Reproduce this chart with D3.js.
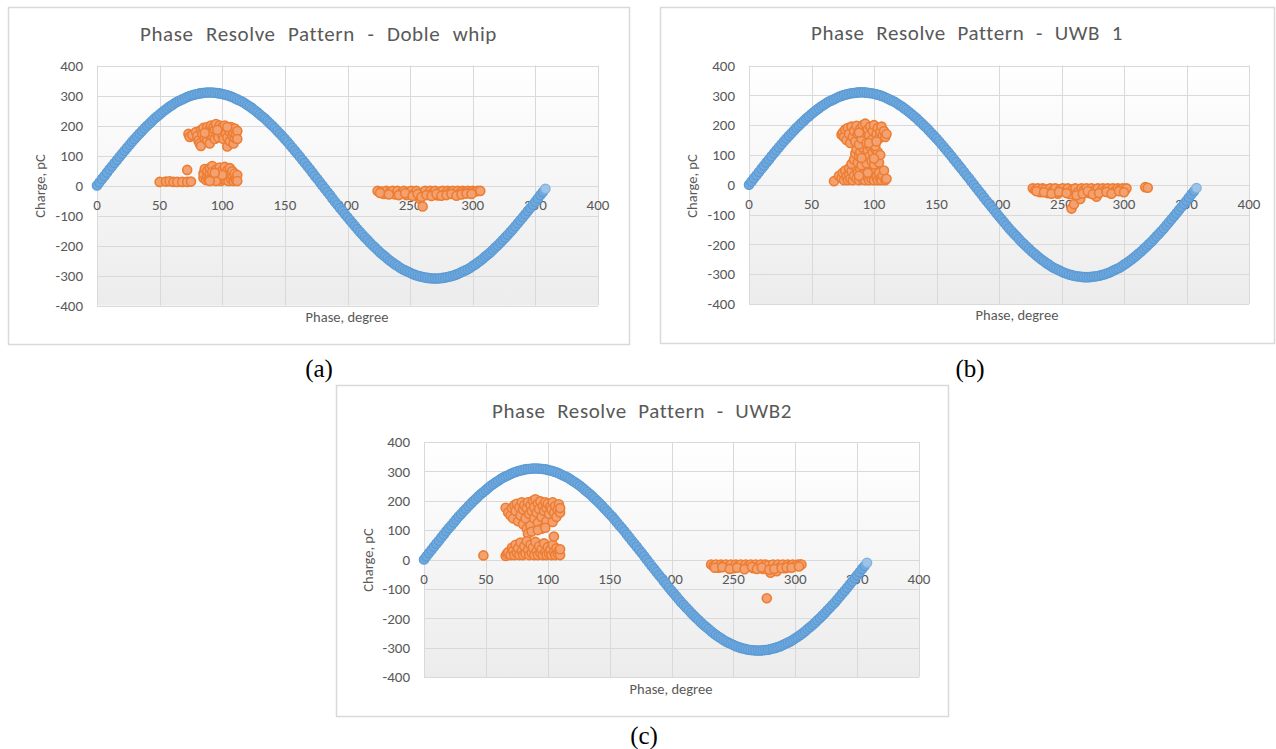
<!DOCTYPE html>
<html><head><meta charset="utf-8">
<script src="https://cdn.jsdelivr.net/npm/d3@7"></script>
<style>body{margin:0;background:#fff}</style>
</head><body>
<svg id="c" width="1276" height="749"></svg>
<script>
// ---------- DATA ----------
const titles = ["Phase Resolve Pattern - Doble whip", "Phase Resolve Pattern - UWB 1", "Phase Resolve Pattern - UWB2"];
const captions = ["(a)", "(b)", "(c)"];
const xTitle = "Phase, degree";
const yTitle = "Charge, pC";
const xTicks = [0, 50, 100, 150, 200, 250, 300, 350, 400];
const yTicks = [-400, -300, -200, -100, 0, 100, 200, 300, 400];

// reference voltage trace (phase every 2 degrees, charge pC)
const sinePhase = d3.range(0, 360, 2);
const sineCharge = [0,11,22,32,43,54,64,75,85,96,106,116,126,136,146,155,164,173,182,191,199,207,215,223,230,237,244,251,257,263,268,274,279,283,287,291,295,298,301,303,305,307,308,309,310,310,
310,309,308,307,305,303,301,298,295,291,287,283,279,274,268,263,257,251,244,237,230,223,215,207,199,191,182,173,164,155,146,136,126,116,106,96,85,75,64,54,43,32,22,11,0,
-11,-22,-32,-43,-54,-64,-75,-85,-96,-106,-116,-126,-136,-146,-155,-164,-173,-182,-191,-199,-207,-215,-223,-230,-237,-244,-251,-257,-263,-268,-274,-279,-283,-287,-291,-295,-298,-301,-303,-305,-307,-308,-309,-310,-310,
-310,-309,-308,-307,-305,-303,-301,-298,-295,-291,-287,-283,-279,-274,-268,-263,-257,-251,-244,-237,-230,-223,-215,-207,-199,-191,-182,-173,-164,-155,-146,-136,-126,-116,-106,-96,-85,-75,-64,-54,-43,-32,-22,-11];

// PD pulses [phase, charge]
const pdA = [
[50,12],[55,13],[58,14],[61,12],[64,12],[68,12],[72,12],[75,13],[72,52],
[85,25],[85,40],[86,55],[87,18],[88,30],[88,48],[89,20],[90,38],[90,58],[91,25],[92,65],[92,45],[93,18],[94,32],[95,52],[96,22],[97,40],[98,60],[99,15],[99,30],[100,48],[101,20],[102,62],[102,35],[103,18],[104,50],[104,28],[105,15],[106,40],[106,58],[107,22],[108,33],[108,48],[109,15],[110,25],[110,40],[111,18],[112,35],[112,15],[95,15],[90,15],[100,35],[94,42],
[73,172],[74,162],[76,168],[79,178],[80,165],[81,150],[82,140],[83,132],[83,185],[84,172],[85,192],[86,160],[87,180],[88,195],[88,150],[89,170],[90,188],[90,140],[91,200],[92,165],[92,178],[93,195],[94,155],[94,185],[95,205],[96,170],[97,190],[97,160],[98,200],[99,180],[100,168],[100,195],[101,155],[102,185],[102,200],[103,172],[104,130],[104,160],[105,190],[106,178],[106,148],[107,195],[108,165],[108,185],[109,140],[109,175],[110,190],[110,158],[111,170],[112,182],[112,155],[86,175],[96,185],[104,195],
[224,-18],[227,-20],[229,-28],[231,-18],[234,-22],[236,-18],[238,-30],[240,-18],[243,-25],[245,-18],[247,-32],[249,-20],[251,-18],[253,-28],[255,-18],[257,-35],[258,-45],[260,-70],[261,-22],[262,-18],[264,-30],[266,-18],[268,-25],[270,-18],[272,-33],[274,-20],[276,-18],[278,-28],[280,-18],[282,-22],[284,-18],[286,-30],[288,-18],[290,-24],[292,-18],[294,-20],[296,-18],[298,-22],[300,-18],[302,-20],[304,-18],[306,-18],
[226,-25],[233,-30],[241,-32],[246,-26],[252,-35],[256,-28],[259,-38],[263,-32],[267,-35],[271,-28],[275,-34],[279,-32],[283,-28],[287,-34],[291,-30],[295,-27],[299,-28]
];
const pdB = [
[68,12],
[72,30],[74,22],[75,40],[76,15],[77,48],[78,28],[79,15],[80,35],[80,55],[81,20],[82,45],[83,15],[84,30],[85,60],[86,20],[87,40],[88,15],[89,52],[90,28],[91,18],[92,42],[93,15],[94,58],[95,25],[96,15],[97,45],[98,20],[99,35],[100,15],[101,55],[102,25],[103,15],[104,40],[105,20],[106,15],[107,30],[108,48],[109,15],[110,20],[95,40],[88,30],
[82,70],[84,85],[85,105],[86,120],[87,75],[88,95],[89,110],[90,65],[91,125],[92,88],[93,100],[94,72],[95,115],[96,95],[97,128],[98,80],[99,108],[100,68],[101,120],[102,90],[103,110],[104,75],[105,100],[100,88],[90,90],
[74,168],[75,175],[76,160],[77,185],[78,150],[79,190],[80,170],[81,140],[82,195],[83,160],[84,180],[85,145],[86,198],[87,170],[88,135],[89,188],[90,155],[91,200],[92,175],[93,205],[94,140],[95,185],[96,165],[97,195],[98,150],[99,180],[100,200],[101,130],[102,170],[103,190],[104,155],[105,178],[106,195],[107,165],[108,180],[109,160],[110,170],[88,175],[96,140],[102,145],
[227,-12],[229,-18],[231,-12],[233,-25],[235,-12],[237,-15],[239,-28],[241,-12],[243,-20],[245,-12],[247,-30],[249,-15],[251,-12],[253,-22],[255,-12],[257,-32],[258,-80],[259,-15],[260,-65],[261,-12],[263,-25],[265,-48],[266,-12],[268,-18],[270,-12],[272,-28],[274,-12],[276,-20],[278,-40],[279,-12],[281,-25],[283,-12],[285,-18],[287,-12],[289,-28],[291,-12],[293,-20],[295,-12],[297,-15],[299,-12],[301,-18],[302,-12],[317,-8],[319,-10],
[230,-22],[236,-25],[242,-30],[248,-24],[254,-28],[262,-35],[267,-30],[271,-22],[275,-32],[280,-28],[286,-24],[290,-30],[296,-22],[300,-25]
];
const pdC = [
[48,14],[66,176],[66,12],[67,20],
[68,160],[70,150],[71,175],[72,140],[73,185],[74,165],[75,190],[76,130],[77,178],[78,150],[79,195],[80,120],[80,170],[81,185],[82,140],[83,105],[83,175],[84,195],[85,155],[86,115],[86,185],[87,165],[88,200],[89,140],[89,178],[90,205],[91,160],[92,125],[92,190],[93,172],[94,198],[95,145],[95,105],[96,182],[97,165],[98,195],[99,130],[99,175],[100,190],[101,155],[102,180],[103,170],[104,128],[104,195],[105,160],[106,182],[107,145],[108,170],[109,188],[110,160],[110,175],[84,88],[87,95],[92,100],[98,108],
[68,25],[70,15],[71,40],[72,30],[73,15],[74,50],[75,22],[76,38],[77,15],[78,58],[79,28],[80,15],[81,45],[82,20],[83,62],[84,32],[85,15],[86,50],[87,22],[88,40],[89,15],[90,60],[91,28],[92,15],[93,45],[94,22],[95,35],[96,15],[97,55],[98,25],[99,15],[100,42],[101,20],[102,32],[103,15],[104,50],[105,78],[105,25],[106,15],[107,38],[108,20],[109,30],[110,15],[110,35],
[232,-17],[234,-22],[236,-17],[238,-28],[240,-17],[242,-20],[244,-17],[246,-25],[248,-17],[250,-30],[252,-17],[254,-20],[256,-17],[258,-28],[260,-17],[262,-22],[264,-17],[266,-30],[268,-17],[270,-25],[272,-17],[274,-32],[276,-17],[277,-132],[278,-20],[280,-45],[282,-17],[284,-28],[285,-40],[286,-17],[288,-25],[290,-17],[292,-30],[294,-17],[296,-20],[298,-17],[300,-22],[302,-17],[304,-17],[305,-17],
[235,-28],[241,-26],[247,-32],[253,-28],[259,-33],[265,-25],[269,-32],[273,-27],[279,-35],[283,-32],[289,-30],[293,-27],[297,-28],[303,-24]
];
const pdSets = [pdA, pdB, pdC];

// ---------- LAYOUT ----------
const layout = [
  {box:[8,7,629,344],    plot:[97,65.5,598,305.5], titleY:34,  titleW:357, xt:[347,317],  yt:[40,186],  cap:[319,368]},
  {box:[660,7,1274,343], plot:[749,65.5,1249,304], titleY:33,  titleW:312, xt:[1017,315], yt:[692,186], cap:[970,368]},
  {box:[336,385,948,716],plot:[424,442,919,677],   titleY:411, titleW:300, xt:[671,689],  yt:[368,560], cap:[644,735]}
];

const FONT = "Carlito, Lato, 'Open Sans', sans-serif";
const GREY = "#595959";
const svg = d3.select("#c");
const defs = svg.append("defs");
const grad = defs.append("linearGradient").attr("id","bg").attr("x1",0).attr("y1",0).attr("x2",0).attr("y2",1);
grad.append("stop").attr("offset","0%").attr("stop-color","#ffffff");
grad.append("stop").attr("offset","100%").attr("stop-color","#ececec");

layout.forEach((L, i) => {
  const g = svg.append("g");
  const [bx0,by0,bx1,by1] = L.box;
  g.append("rect").attr("x",bx0+0.5).attr("y",by0+0.5).attr("width",bx1-bx0).attr("height",by1-by0)
    .attr("fill","#fff").attr("stroke","#d9d9d9").attr("stroke-width",1.5);

  const [px0,py0,px1,py1] = L.plot;
  const x = d3.scaleLinear().domain([0,400]).range([px0,px1]);
  const y = d3.scaleLinear().domain([-400,400]).range([py1,py0]);

  g.append("rect").attr("x",px0).attr("y",py0).attr("width",px1-px0).attr("height",py1-py0).attr("fill","url(#bg)");

  // gridlines
  g.append("g").selectAll("line").data(xTicks).join("line")
    .attr("x1",d=>Math.round(x(d))+0.5).attr("x2",d=>Math.round(x(d))+0.5).attr("y1",py0).attr("y2",py1)
    .attr("stroke","#d9d9d9").attr("stroke-width",1);
  g.append("g").selectAll("line").data(yTicks).join("line")
    .attr("y1",d=>Math.round(y(d))+0.5).attr("y2",d=>Math.round(y(d))+0.5).attr("x1",px0).attr("x2",px1)
    .attr("stroke","#d9d9d9").attr("stroke-width",1);

  // y tick labels
  g.append("g").selectAll("text").data(yTicks).join("text")
    .attr("x",px0-14).attr("y",d=>y(d)).attr("dy","0.35em").attr("text-anchor","end")
    .attr("font-family",FONT).attr("font-size",15).attr("fill",GREY).text(d=>d);
  // x tick labels at zero line
  g.append("g").selectAll("text").data(xTicks).join("text")
    .attr("x",d=>x(d)).attr("y",y(0)+19).attr("dy","0.35em").attr("text-anchor","middle")
    .attr("font-family",FONT).attr("font-size",15).attr("fill",GREY).text(d=>d);

  // sine series
  const plotG = g.append("g");
  plotG.selectAll("circle.s").data(sinePhase.map((p,k)=>[p,sineCharge[k],k])).join("circle")
    .attr("class","s").attr("cx",d=>x(d[0])).attr("cy",d=>y(d[1])).attr("r",4.7)
    .attr("fill",d=>d[2]===sinePhase.length-1?"#9dc3e6":"#6fa8dc")
    .attr("stroke",d=>d[2]===sinePhase.length-1?"#7fb0de":"#5b9bd5").attr("stroke-width",1.2);
  // PD series
  plotG.selectAll("circle.p").data(pdSets[i]).join("circle")
    .attr("class","p").attr("cx",d=>x(d[0])).attr("cy",d=>y(d[1])).attr("r",4.5)
    .attr("fill","#f4a172").attr("stroke","#ed7d31").attr("stroke-width",1.6);

  // title
  const t = g.append("text").attr("x",(bx0+bx1)/2).attr("y",L.titleY).attr("dy","0.35em")
    .attr("text-anchor","middle").attr("font-family",FONT).attr("font-size",21).attr("fill",GREY)
    .attr("letter-spacing",0.6).text(titles[i]);
  const nat = t.node().getComputedTextLength();
  const spaces = (titles[i].match(/ /g)||[]).length;
  t.attr("word-spacing", Math.max(0,(L.titleW-nat)/spaces));

  // axis titles
  g.append("text").attr("x",L.xt[0]).attr("y",L.xt[1]).attr("dy","0.35em").attr("text-anchor","middle")
    .attr("font-family",FONT).attr("font-size",14.5).attr("fill",GREY).text(xTitle);
  g.append("text").attr("transform",`translate(${L.yt[0]},${L.yt[1]}) rotate(-90)`).attr("dy","0.35em")
    .attr("text-anchor","middle").attr("font-family",FONT).attr("font-size",14.5).attr("fill",GREY).text(yTitle);

  // caption
  svg.append("text").attr("x",L.cap[0]).attr("y",L.cap[1]).attr("dy","0.35em").attr("text-anchor","middle")
    .attr("font-family","'Liberation Serif','Times New Roman',serif").attr("font-size",25).attr("fill","#000")
    .text(captions[i]);
});
</script>
</body></html>
